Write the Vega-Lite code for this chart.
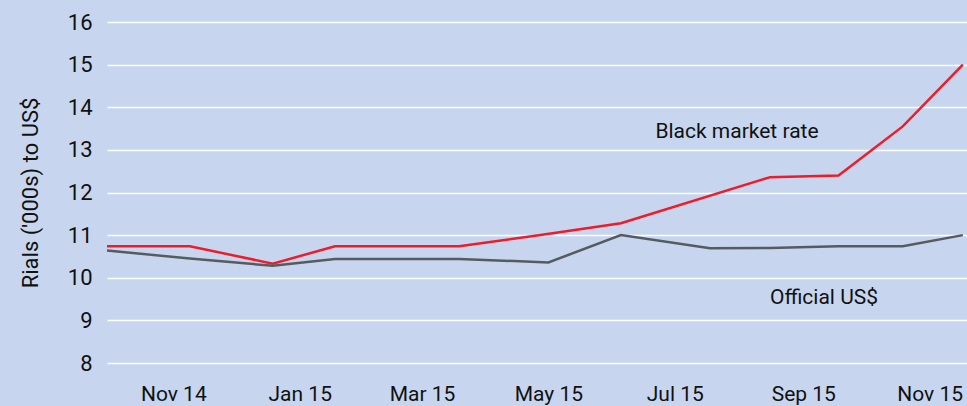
{
  "$schema": "https://vega.github.io/schema/vega-lite/v6.json",
  "width": 860,
  "height": 341,
  "autosize": {"type": "none"},
  "padding": {"left": 107, "top": 22, "right": 0, "bottom": 43},
  "background": "#c7d6ee",
  "config": {
    "view": {"stroke": null, "fill": "#c7d6ee"},
    "font": "Roboto",
    "axis": {"labelFont": "Roboto", "titleFont": "Roboto", "labelColor": "#111111", "titleColor": "#111111"}
  },
  "datasets": {
    "rates": [
      {"series": "Black market rate", "date": "2014-09-30", "value": 10.74},
      {"series": "Black market rate", "date": "2014-11-09", "value": 10.74},
      {"series": "Black market rate", "date": "2014-12-19", "value": 10.33},
      {"series": "Black market rate", "date": "2015-01-18", "value": 10.74},
      {"series": "Black market rate", "date": "2015-03-19", "value": 10.74},
      {"series": "Black market rate", "date": "2015-04-28", "value": 11.01},
      {"series": "Black market rate", "date": "2015-06-05", "value": 11.28},
      {"series": "Black market rate", "date": "2015-08-16", "value": 12.36},
      {"series": "Black market rate", "date": "2015-09-18", "value": 12.4},
      {"series": "Black market rate", "date": "2015-10-19", "value": 13.55},
      {"series": "Black market rate", "date": "2015-11-17", "value": 15.0},
      {"series": "Official US$", "date": "2014-09-30", "value": 10.64},
      {"series": "Official US$", "date": "2014-11-09", "value": 10.45},
      {"series": "Official US$", "date": "2014-12-19", "value": 10.28},
      {"series": "Official US$", "date": "2015-01-18", "value": 10.44},
      {"series": "Official US$", "date": "2015-03-19", "value": 10.44},
      {"series": "Official US$", "date": "2015-05-01", "value": 10.36},
      {"series": "Official US$", "date": "2015-06-05", "value": 11.0},
      {"series": "Official US$", "date": "2015-07-18", "value": 10.69},
      {"series": "Official US$", "date": "2015-08-16", "value": 10.7},
      {"series": "Official US$", "date": "2015-09-18", "value": 10.74},
      {"series": "Official US$", "date": "2015-10-19", "value": 10.74},
      {"series": "Official US$", "date": "2015-11-17", "value": 11.0}
    ],
    "labels": [
      {"label": "Black market rate", "date": "2015-07-31", "value": 13.43},
      {"label": "Official US$", "date": "2015-09-11", "value": 9.53}
    ]
  },
  "layer": [
    {
      "data": {"name": "rates"},
      "mark": {"type": "line", "strokeWidth": 2.5, "interpolate": "linear"},
      "encoding": {
        "x": {
          "field": "date", "type": "temporal",
          "scale": {"domain": ["2014-09-30", "2015-11-19"]},
          "axis": {
            "values": ["2014-11-01", "2015-01-01", "2015-03-01", "2015-05-01", "2015-07-01", "2015-09-01", "2015-11-01"],
            "format": "%b %y",
            "title": null,
            "domain": false,
            "ticks": false,
            "grid": false,
            "labelFontSize": 21,
            "labelPadding": 20,
            "labelAlign": "center"
          }
        },
        "y": {
          "field": "value", "type": "quantitative",
          "scale": {"domain": [8, 16], "nice": false, "zero": false},
          "axis": {
            "values": [8, 9, 10, 11, 12, 13, 14, 15, 16],
            "title": "Rials ('000s) to US$",
            "titleFontSize": 22,
            "titleFontWeight": "normal",
            "titlePadding": 25,
            "domain": false,
            "ticks": false,
            "grid": true,
            "gridColor": "#ffffff",
            "gridWidth": 1.5,
            "gridOpacity": 1,
            "labelFontSize": 22,
            "labelPadding": 15
          }
        },
        "color": {
          "field": "series", "type": "nominal",
          "scale": {"domain": ["Black market rate", "Official US$"], "range": ["#ec1c2a", "#565b60"]},
          "legend": null
        }
      }
    },
    {
      "data": {"name": "labels"},
      "mark": {"type": "text", "fontSize": 21, "color": "#111111", "align": "center", "baseline": "middle", "font": "Roboto"},
      "encoding": {
        "x": {"field": "date", "type": "temporal"},
        "y": {"field": "value", "type": "quantitative"},
        "text": {"field": "label"}
      }
    }
  ]
}
